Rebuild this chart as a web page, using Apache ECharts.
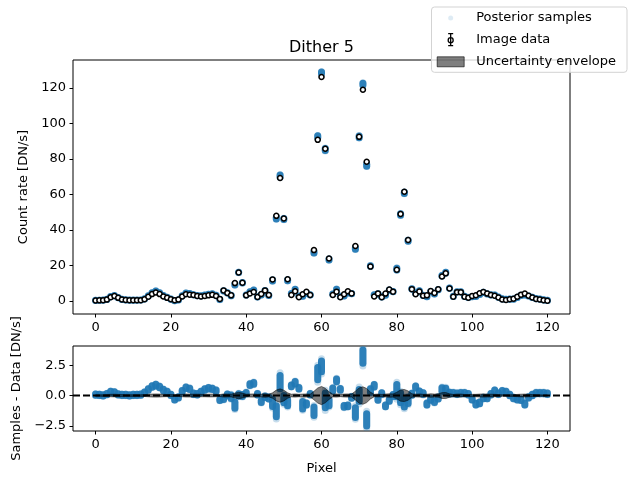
<!DOCTYPE html>
<html>
<head>
<meta charset="utf-8">
<title>Dither 5</title>
<script src="https://cdn.jsdelivr.net/npm/echarts@6/dist/echarts.min.js"></script>
<style>
  html, body { margin: 0; padding: 0; background: #fff; }
  #chart { width: 635px; height: 483px; }
</style>
</head>
<body>
<div id="chart"></div>
<script>
// image data per pixel (pixel = array index), DN/s
const counts = [
  0.3, 0.4, 0.5, 0.8, 2.2, 2.8, 1.8, 0.9, 0.6, 0.5,
  0.5, 0.5, 0.5, 1.0, 2.4, 3.9, 4.8, 3.9, 2.6, 1.8,
  1.0, 0.5, 0.8, 2.6, 3.8, 3.6, 3.4, 2.9, 2.6, 2.8,
  3.2, 3.5, 2.8, 1.2, 6.0, 4.6, 3.2, 10.1, 16.1, 10.3,
  3.2, 4.3, 5.1, 2.3, 4.0, 6.0, 3.4, 12.2, 48.0, 69.3,
  46.5, 12.3, 3.4, 5.5, 2.2, 3.8, 5.2, 3.4, 28.7, 90.8,
  126.2, 85.8, 24.0, 3.4, 5.3, 2.1, 3.8, 5.5, 4.3, 31.0,
  92.5, 119.0, 78.5, 19.4, 2.6, 4.3, 2.2, 4.2, 6.5, 5.3,
  17.6, 49.0, 61.6, 34.4, 6.7, 3.8, 5.4, 3.0, 3.2, 5.6,
  4.6, 6.6, 13.8, 15.6, 7.1, 2.4, 5.0, 5.0, 2.4, 1.9,
  2.8, 3.3, 4.4, 5.1, 4.2, 3.4, 3.0, 2.0, 0.9, 0.6,
  1.0, 1.3, 2.4, 3.6, 4.2, 3.0, 2.0, 1.2, 0.9, 0.5,
  0.2
];

// posterior samples minus data: centre of the sample cloud per pixel
const residMid = [
  0.08, 0.05, 0.02, 0.12, 0.3, 0.25, 0.1, 0.05, 0.05, 0.02,
  0.05, 0.05, 0.08, 0.25, 0.5, 0.75, 0.85, 0.7, 0.45, 0.3,
  0.05, -0.3, -0.15, 0.35, 0.65, 0.55, 0.15, 0.1, 0.3, 0.5,
  0.6, 0.55, 0.4, -0.35, -0.25, 0.05, -0.1, -0.8, 0.05, 0.0,
  0.2, 0.9, 1.0, 0.1, -0.5, -0.1, -0.2, -0.6, -1.3, 1.1,
  -0.3, -0.6, 0.8, 1.05, 0.6, -0.8, -0.7, 0.1, -1.3, 1.8,
  2.4, -0.4, -0.6, 0.5, 1.25, 0.5, -0.9, -0.85, -0.15, -1.4,
  0.0, 3.2, -2.0, 0.4, 0.8, -0.3, 0.15, -0.85, -0.4, 0.0,
  0.4, -0.2, -0.6, -0.4, 0.1, 0.7, 0.3, 0.15, -0.7, -0.3,
  -0.5, -0.2, 0.5, 0.4, 0.2, 0.2, 0.15, 0.2, 0.2, 0.1,
  -0.3, -0.7, -0.6, -0.2, -0.2, 0.1, 0.4, 0.15, 0.35, 0.3,
  0.05, -0.2, -0.3, -0.35, -0.7, -0.15, 0.05, 0.2, 0.2, 0.2,
  0.15
];

// half height of the sample cloud per pixel
const residSpread = [
  0.05, 0.05, 0.05, 0.05, 0.06, 0.06, 0.05, 0.05, 0.05, 0.05,
  0.05, 0.05, 0.05, 0.05, 0.06, 0.06, 0.07, 0.06, 0.06, 0.05,
  0.05, 0.06, 0.05, 0.06, 0.06, 0.06, 0.06, 0.06, 0.06, 0.06,
  0.06, 0.06, 0.06, 0.05, 0.08, 0.07, 0.15, 0.25, 0.1, 0.08,
  0.06, 0.08, 0.08, 0.06, 0.08, 0.07, 0.08, 0.3, 0.45, 0.55,
  0.3, 0.25, 0.07, 0.1, 0.07, 0.3, 0.08, 0.06, 0.35, 0.5,
  0.45, 0.6, 0.25, 0.12, 0.12, 0.07, 0.07, 0.07, 0.07, 0.4,
  0.5, 0.55, 0.5, 0.15, 0.1, 0.08, 0.07, 0.07, 0.08, 0.08,
  0.5, 0.4, 0.35, 0.25, 0.08, 0.08, 0.07, 0.07, 0.08, 0.08,
  0.08, 0.08, 0.15, 0.2, 0.08, 0.06, 0.06, 0.06, 0.06, 0.06,
  0.06, 0.07, 0.07, 0.06, 0.06, 0.06, 0.06, 0.06, 0.06, 0.06,
  0.06, 0.06, 0.06, 0.06, 0.07, 0.06, 0.06, 0.06, 0.06, 0.06,
  0.06
];

// uncertainty envelope half width per pixel
const envelope = [
  0.06, 0.06, 0.07, 0.08, 0.1, 0.11, 0.09, 0.08, 0.07, 0.07,
  0.07, 0.07, 0.07, 0.08, 0.1, 0.12, 0.13, 0.12, 0.1, 0.09,
  0.08, 0.07, 0.08, 0.1, 0.12, 0.12, 0.11, 0.11, 0.1, 0.1,
  0.11, 0.11, 0.1, 0.08, 0.13, 0.12, 0.11, 0.2, 0.26, 0.2,
  0.11, 0.12, 0.13, 0.1, 0.12, 0.14, 0.11, 0.22, 0.45, 0.55,
  0.44, 0.22, 0.11, 0.13, 0.1, 0.12, 0.13, 0.11, 0.35, 0.62,
  0.75, 0.6, 0.32, 0.11, 0.13, 0.09, 0.12, 0.13, 0.12, 0.36,
  0.63, 0.72, 0.58, 0.28, 0.1, 0.12, 0.09, 0.12, 0.14, 0.13,
  0.27, 0.46, 0.5, 0.38, 0.14, 0.11, 0.13, 0.1, 0.11, 0.14,
  0.12, 0.14, 0.24, 0.25, 0.14, 0.09, 0.12, 0.12, 0.09, 0.08,
  0.1, 0.1, 0.12, 0.13, 0.12, 0.11, 0.1, 0.08, 0.06, 0.06,
  0.07, 0.07, 0.09, 0.11, 0.12, 0.1, 0.08, 0.07, 0.06, 0.05,
  0.05
];

const xTicks = [0, 20, 40, 60, 80, 100, 120];
const countTicks = [0, 20, 40, 60, 80, 100, 120];
const residTicks = [-2.5, 0, 2.5];

const X_MIN = -6, X_MAX = 126;
const BLUE = '#1f77b4';
const FONT = 'DejaVu Sans';

const chart = echarts.init(document.getElementById('chart'), null, { renderer: 'canvas' });

// vertical streak of overlapping samples: faint tails + solid core
function renderSamples(params, api) {
  const x = api.value(0);
  const a = api.coord([x, api.value(1)]);
  const b = api.coord([x, api.value(2)]);
  const tail = (a[1] - b[1]) * 0.2;
  return {
    type: 'group',
    children: [
      { type: 'line', shape: { x1: a[0], y1: a[1] + tail, x2: b[0], y2: b[1] - tail },
        style: { stroke: BLUE, lineWidth: 7, lineCap: 'round', opacity: 0.25 } },
      { type: 'line', shape: { x1: a[0], y1: a[1], x2: b[0], y2: b[1] },
        style: { stroke: BLUE, lineWidth: 7, lineCap: 'round', opacity: 0.92 } }
    ]
  };
}

function renderEnvelope(params, api) {
  if (params.dataIndexInside !== 0) return null;
  const n = params.dataInsideLength;
  const upper = [], lower = [];
  for (let k = 0; k < n; k++) {
    const x = api.value(0, k);
    upper.push(api.coord([x, api.value(2, k)]));
    lower.unshift(api.coord([x, api.value(1, k)]));
  }
  return {
    type: 'polygon',
    shape: { points: upper.concat(lower) },
    style: { fill: 'rgba(0,0,0,0.5)', stroke: 'rgba(0,0,0,0.5)', lineWidth: 1 }
  };
}

const axisText = { fontFamily: FONT, fontSize: 13, color: '#000' };
const nameText = { fontFamily: FONT, fontSize: 13, color: '#000' };

function xAxisCfg(grid, name) {
  return {
    type: 'value', gridIndex: grid, min: X_MIN, max: X_MAX,
    name: name || '', nameLocation: 'middle', nameGap: 31, nameTextStyle: nameText,
    axisLine: { show: false, onZero: false },
    axisTick: { show: true, length: 3.5, customValues: xTicks, lineStyle: { color: '#000' } },
    axisLabel: Object.assign({ customValues: xTicks, margin: 7 }, axisText),
    splitLine: { show: false }
  };
}

function yAxisCfg(grid, min, max, ticks, name, gap, fmt) {
  return {
    type: 'value', gridIndex: grid, min: min, max: max,
    name: name, nameLocation: 'middle', nameGap: gap, nameTextStyle: nameText,
    axisLine: { show: false, onZero: false },
    axisTick: { show: true, length: 3.5, customValues: ticks, lineStyle: { color: '#000' } },
    axisLabel: Object.assign({ customValues: ticks, margin: 7, formatter: fmt }, axisText),
    splitLine: { show: false }
  };
}

chart.setOption({
  animation: false,
  backgroundColor: '#fff',
  title: {
    text: 'Dither 5', left: 289, top: 40, padding: 0,
    textStyle: { fontFamily: FONT, fontSize: 16, fontWeight: 'normal', color: '#000' }
  },
  legend: {
    right: 8, top: 7, orient: 'vertical', selectedMode: false,
    itemWidth: 34, itemHeight: 16, itemGap: 5, padding: [3, 11, 2, 5],
    backgroundColor: 'rgba(255,255,255,0.8)', borderColor: '#d3d3d3', borderWidth: 1, borderRadius: 3,
    textStyle: { fontFamily: FONT, fontSize: 13, color: '#000' },
    data: [
      { name: 'Posterior samples',
        icon: 'path://M0 0M34 16M16 8A2.5 2.5 0 1 1 11 8A2.5 2.5 0 1 1 16 8Z',
        itemStyle: { color: 'rgba(31,119,180,0.15)', borderWidth: 0 } },
      { name: 'Image data',
        icon: 'path://M0 0M34 16M13.5 2L13.5 14M11 2L16 2M11 14L16 14M16 8.5A2.5 2.5 0 1 1 11 8.5A2.5 2.5 0 1 1 16 8.5Z',
        itemStyle: { color: '#fff', borderColor: '#000', borderWidth: 1.3 } },
      { name: 'Uncertainty envelope',
        icon: 'path://M0 0M34 16M0 3L27 3L27 13L0 13Z',
        itemStyle: { color: 'rgba(0,0,0,0.5)', borderColor: 'rgba(0,0,0,0.6)', borderWidth: 1 } }
    ]
  },
  grid: [
    { left: 73, right: 65, top: 60, height: 254, show: true, borderColor: '#000', borderWidth: 1, backgroundColor: 'transparent' },
    { left: 73, right: 65, top: 346, height: 85, show: true, borderColor: '#000', borderWidth: 1, backgroundColor: 'transparent' }
  ],
  xAxis: [xAxisCfg(0), xAxisCfg(1, 'Pixel')],
  yAxis: [
    yAxisCfg(0, -7.3, 135.8, countTicks, 'Count rate [DN/s]', 34),
    yAxisCfg(1, -2.92, 4.08, residTicks, 'Samples - Data [DN/s]', 41,
      v => v.toFixed(1).replace('-', '\u2212'))
  ],
  series: [
    {
      name: 'Posterior samples', type: 'custom', xAxisIndex: 0, yAxisIndex: 0, z: 2, clip: true,
      renderItem: renderSamples,
      data: counts.map((c, i) => [i, c + residMid[i] - residSpread[i], c + residMid[i] + residSpread[i]])
    },
    {
      name: 'Image data', type: 'scatter', xAxisIndex: 0, yAxisIndex: 0, z: 3,
      symbol: 'circle', symbolSize: 5,
      itemStyle: { color: '#fff', borderColor: '#000', borderWidth: 1.5, opacity: 1 },
      data: counts.map((c, i) => [i, c])
    },
    {
      name: 'Posterior samples', type: 'custom', xAxisIndex: 1, yAxisIndex: 1, z: 2, clip: true,
      renderItem: renderSamples,
      data: residMid.map((m, i) => [i, m - residSpread[i], m + residSpread[i]])
    },
    {
      name: 'Uncertainty envelope', type: 'custom', xAxisIndex: 1, yAxisIndex: 1, z: 3, clip: true,
      renderItem: renderEnvelope,
      data: envelope.map((e, i) => [i, -e, e])
    },
    {
      name: 'zero', type: 'line', xAxisIndex: 1, yAxisIndex: 1, z: 4, silent: true,
      symbol: 'none',
      lineStyle: { color: '#000', width: 2, type: [7, 3] },
      data: [[X_MIN, 0], [X_MAX, 0]]
    }
  ]
});

window.addEventListener('resize', () => chart.resize());
</script>
</body>
</html>
